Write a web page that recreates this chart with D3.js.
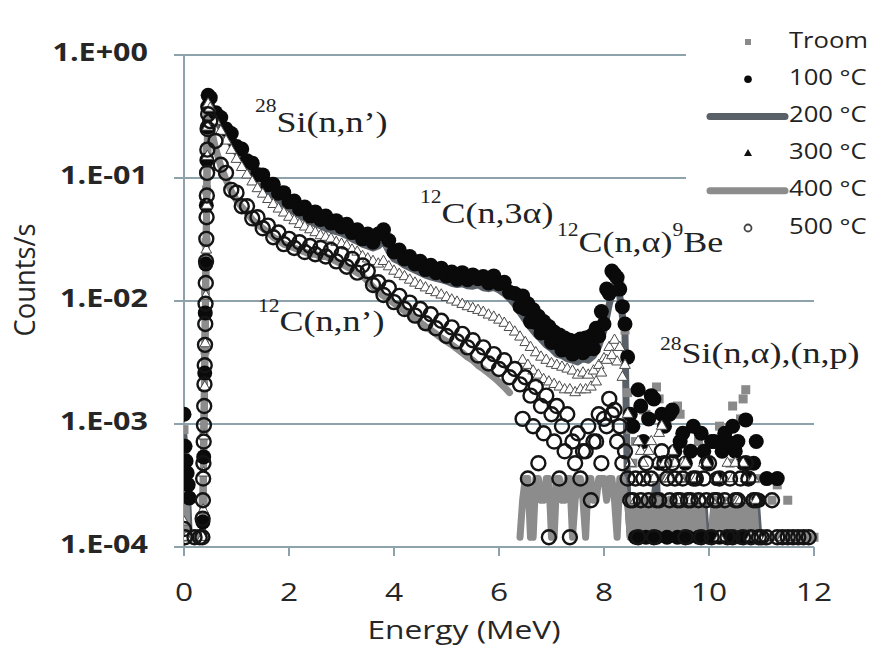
<!DOCTYPE html>
<html>
<head>
<meta charset="utf-8">
<script src="https://cdn.jsdelivr.net/npm/d3@7"></script>
<style>
  html, body { margin: 0; padding: 0; background: #fff; }
  svg { display: block; }
</style>
</head>
<body>
<div id="chart"></div>
<script>
// --- DATA ---
// energy bins in MeV; finer steps on the steep rising edge near 0.4 MeV
const energy = [
  0, 0.02, 0.04, 0.06, 0.08, 0.1, 0.2, 0.3,
  0.35, 0.355, 0.36, 0.365, 0.37, 0.375, 0.38, 0.385, 0.39, 0.395,
  0.4, 0.405, 0.41, 0.415, 0.42, 0.425, 0.43, 0.435, 0.44, 0.445, 0.45, 0.46,
  0.5, 0.6, 0.7, 0.8, 0.9, 1.0, 1.1, 1.2, 1.3, 1.4,
  1.5, 1.6, 1.7, 1.8, 1.9, 2.0, 2.1, 2.2, 2.3, 2.4,
  2.5, 2.6, 2.7, 2.8, 2.9, 3.0, 3.1, 3.2, 3.3, 3.4,
  3.5, 3.6, 3.7, 3.8, 3.9, 4.0, 4.1, 4.2, 4.3, 4.4,
  4.5, 4.6, 4.7, 4.8, 4.9, 5.0, 5.1, 5.2, 5.3, 5.4,
  5.5, 5.6, 5.7, 5.8, 5.9, 6.0, 6.1, 6.2, 6.3, 6.4,
  6.5, 6.6, 6.7, 6.8, 6.9, 7.0, 7.1, 7.2, 7.3, 7.4,
  7.5, 7.6, 7.7, 7.8, 7.9, 8.0, 8.1, 8.2, 8.3, 8.4,
  8.5, 8.6, 8.7, 8.8, 8.9, 9.0, 9.1, 9.2, 9.3, 9.4,
  9.5, 9.6, 9.7, 9.8, 9.9, 10.0, 10.1, 10.2, 10.3, 10.4,
  10.5, 10.6, 10.7, 10.8, 10.9, 11.0, 11.1, 11.2, 11.3, 11.4,
  11.5, 11.6, 11.7, 11.8, 11.9, 12.0
];
// extra half-step bins in the noisy high-energy tail
const energyTail = [
  6.45, 6.55, 6.65, 6.75, 6.85, 6.95, 7.05, 7.15, 7.25, 7.35,
  7.45, 7.55, 7.65, 7.75, 7.85, 7.95, 8.05, 8.15, 8.25, 8.35,
  8.45, 8.55, 8.65, 8.75, 8.85, 8.95, 9.05, 9.15, 9.25, 9.35,
  9.45, 9.55, 9.65, 9.75, 9.85, 9.95, 10.05, 10.15, 10.25, 10.35,
  10.45, 10.55, 10.65, 10.75, 10.85, 10.95
];

// counts/s, null = no counts
const countsTroom = [
  0.0009, 0.0006, 0.00048, 0.00036, 0.00024, 0.00012, null, null,
  null, null, null, 0.00024, null, null, 0.0008, null, null, null,
  0.004, null, 0.012, null, 0.03, null, 0.08, null, 0.17, null, 0.33, 0.45,
  0.44, 0.355, 0.305, 0.26, 0.225, 0.188, 0.168, 0.142, 0.129, 0.11,
  0.099, 0.094, 0.084, 0.08, 0.071, 0.068, 0.061, 0.06, 0.054, 0.053,
  0.049, 0.049, 0.045, 0.046, 0.042, 0.043, 0.039, 0.039, 0.035, 0.035,
  0.032, 0.033, 0.034, 0.036, 0.029, 0.027, 0.024, 0.024, 0.021, 0.022,
  0.0195, 0.0195, 0.018, 0.0185, 0.017, 0.0175, 0.016, 0.0165, 0.0158, 0.016,
  0.0152, 0.0163, 0.0147, 0.0152, 0.0148, 0.0142, 0.0138, 0.012, 0.0112, 0.0092,
  0.0085, 0.007, 0.0066, 0.0056, 0.0054, 0.0046, 0.0046, 0.004, 0.0042, 0.0037,
  0.0039, 0.0038, 0.0041, 0.0041, 0.0052, 0.0065, 0.0115, 0.0155, 0.0135, 0.0058,
  0.0009, 0.00072, 0.00012, 0.0012, 0.00024, 0.002, 0.00036, 0.001, 0.00024, 0.0014,
  0.00036, 0.0006, 0.00024, 0.00072, 0.00012, 0.00048, 0.00024, 0.00096, 0.00012, 0.00048,
  0.00024, 0.0011, 0.0019, 0.00024, 0.00036, 0.00012, 0.00012, 0.00024, 0.00032, 0.00012,
  0.00024, 0.00012, 0.00012, 0.00012, 0.00012, 0.00012
];
const tailTroom = [
  null, null, null, null, null, null, null, null, null, null,
  null, null, null, null, null, null, null, null, null, null,
  0.0018, 0.00048, null, 0.0013, null, 0.00036, 0.0016, null, 0.00048, null,
  0.0012, null, 0.00036, null, 0.00084, null, 0.00024, null, 0.0006, null,
  0.0014, null, 0.0016, 0.00036, null, 0.00024
];

const counts100 = [
  0.0012, 0.00066, 0.0005, 0.0004, 0.00032, 0.00025, null, null,
  null, null, 0.00016, null, null, 0.00054, null, null, null, 0.0026,
  null, 0.008, null, 0.02, null, 0.06, null, 0.14, null, 0.26, 0.38, 0.47,
  0.45, 0.34, 0.31, 0.25, 0.23, 0.18, 0.172, 0.138, 0.132, 0.107,
  0.106, 0.088, 0.089, 0.075, 0.076, 0.064, 0.065, 0.056, 0.058, 0.049,
  0.053, 0.046, 0.049, 0.043, 0.045, 0.040, 0.042, 0.036, 0.038, 0.032,
  0.035, 0.030, 0.035, 0.038, 0.031, 0.025, 0.026, 0.022, 0.023, 0.020,
  0.021, 0.018, 0.0195, 0.017, 0.0185, 0.016, 0.0172, 0.015, 0.017, 0.0149,
  0.0163, 0.0152, 0.0158, 0.014, 0.016, 0.0138, 0.0142, 0.0118, 0.0115, 0.009,
  0.0086, 0.0068, 0.0067, 0.0055, 0.0055, 0.0046, 0.0046, 0.004, 0.0042, 0.0037,
  0.004, 0.0038, 0.0041, 0.0041, 0.0052, 0.0065, 0.0115, 0.0165, 0.0125, 0.0065,
  0.0012, 0.00012, 0.0014, 0.00012, 0.0017, 0.00012, 0.0012, 0.00012, 0.0013, 0.00012,
  0.00084, 0.00012, 0.00096, 0.00012, 0.0006, 0.00012, 0.00072, 0.00012, 0.00084, 0.00012,
  0.0006, 0.00012, 0.00108, 0.00012, 0.00072, 0.00012, 0.00036, null, 0.00036, null,
  null, null, null, null, null, null
];
const tail100 = [
  0.011, 0.0095, 0.0085, 0.0075, 0.0068, 0.0062, 0.0056, 0.0053, 0.005, 0.0048,
  0.0047, 0.0049, 0.005, 0.0052, 0.006, 0.0082, 0.0125, 0.0175, 0.0155, 0.009,
  0.0035, 0.00096, 0.0019, 0.00072, 0.0011, 0.0016, 0.00048, 0.00096, 0.0012, 0.0006,
  0.00072, 0.00048, 0.0006, 0.00036, 0.00084, 0.00048, 0.00072, 0.00036, 0.0006, 0.00072,
  0.00096, 0.00072, 0.00048, 0.00036, 0.00048, 0.00024
];

const counts200 = [
  0.0008, 0.0005, 0.0004, 0.0003, 0.0002, 0.00012, 0.00012, 0.00012,
  0.00012, 0.00015, 0.0002, 0.0003, 0.0004, 0.0006, 0.0009, 0.0013, 0.002, 0.003,
  0.0045, 0.0068, 0.01, 0.015, 0.023, 0.035, 0.055, 0.085, 0.13, 0.2, 0.29, 0.37,
  0.37, 0.3, 0.255, 0.222, 0.188, 0.162, 0.14, 0.123, 0.108, 0.095,
  0.086, 0.079, 0.072, 0.067, 0.061, 0.057, 0.053, 0.05, 0.047, 0.044,
  0.0425, 0.041, 0.039, 0.038, 0.0366, 0.0357, 0.034, 0.032, 0.0306, 0.029,
  0.028, 0.027, 0.028, 0.031, 0.0255, 0.022, 0.021, 0.0196, 0.0187, 0.0178,
  0.017, 0.0162, 0.0157, 0.0153, 0.0149, 0.0145, 0.0139, 0.0136, 0.0138, 0.0133,
  0.0132, 0.0136, 0.0128, 0.0126, 0.0129, 0.0123, 0.0115, 0.0105, 0.0094, 0.0081,
  0.007, 0.0061, 0.0054, 0.0049, 0.0044, 0.0041, 0.0037, 0.0036, 0.0034, 0.0033,
  0.0032, 0.0034, 0.0033, 0.0036, 0.0043, 0.0058, 0.0094, 0.0136, 0.011, 0.0053,
  0.00012, 0.00024, 0.00012, 0.00024, 0.00012, 0.00036, 0.00012, 0.00024, 0.00012, 0.00024,
  0.00012, 0.00024, 0.00012, 0.00012, 0.00024, 0.00012, 0.00024, 0.00012, 0.00012, 0.00024,
  0.00012, 0.00024, 0.00012, 0.00012, 0.00024, 0.00012, null, null, null, null,
  null, null, null, null, null, null
];
const tail200 = [
  null, null, null, null, null, null, null, null, null, null,
  null, null, null, null, null, null, null, null, null, null,
  0.00024, 0.00012, 0.00024, 0.00012, 0.00012, 0.00024, 0.00012, 0.00024, 0.00012, 0.00012,
  0.00024, 0.00012, 0.00024, 0.00012, 0.00024, 0.00012, 0.00012, 0.00024, 0.00012, 0.00024,
  0.00012, 0.00024, 0.00012, 0.00024, 0.00012, 0.00012
];

const counts300 = [
  0.00016, null, 0.00012, null, null, null, null, null,
  null, 0.00012, null, 0.0002, null, 0.0004, null, 0.0008, null, 0.002,
  null, 0.0045, null, 0.011, null, 0.026, null, 0.06, null, 0.15, 0.26, 0.40,
  0.37, 0.29, 0.24, 0.2, 0.168, 0.142, 0.122, 0.106, 0.093, 0.082,
  0.074, 0.067, 0.061, 0.056, 0.052, 0.048, 0.045, 0.042, 0.04, 0.038,
  0.036, 0.034, 0.033, 0.032, 0.03, 0.029, 0.028, 0.026, 0.025, 0.023,
  0.022, 0.021, 0.02, 0.021, 0.019, 0.0175, 0.0165, 0.0158, 0.0148, 0.014,
  0.0134, 0.0128, 0.0122, 0.0117, 0.0112, 0.0107, 0.0102, 0.0098, 0.0094, 0.009,
  0.0087, 0.0084, 0.0081, 0.0077, 0.0074, 0.007, 0.0066, 0.0061, 0.0056, 0.0051,
  0.0046, 0.0042, 0.0038, 0.0035, 0.0033, 0.0031, 0.003, 0.0029, 0.0028, 0.0027,
  0.0025, 0.0026, 0.0025, 0.0027, 0.003, 0.0034, 0.0042, 0.0048, 0.0042, 0.003,
  0.00048, 0.00024, 0.0006, 0.00036, 0.00072, 0.00048, 0.00096, 0.00036, 0.0006, 0.00024,
  0.00048, 0.00024, 0.00036, 0.00024, 0.00048, 0.00024, 0.00036, 0.00012, 0.00036, 0.00024,
  0.00048, 0.00024, 0.00036, 0.00012, 0.00024, null, 0.00012, null, null, 0.00012,
  null, 0.00012, null, null, null, null
];
const tail300 = [
  0.0033, 0.003, 0.0027, 0.0025, 0.0023, 0.0022, 0.0021, 0.002, 0.0019, 0.0019,
  0.0018, 0.0019, 0.0019, 0.002, 0.0022, 0.0026, 0.0033, 0.0036, 0.0032, 0.0024,
  0.0012, 0.00036, 0.00072, 0.00048, 0.0006, 0.00036, 0.00084, 0.00048, 0.00036, 0.00048,
  0.00036, 0.00048, 0.00024, 0.00036, 0.00024, 0.00048, 0.00024, 0.00036, 0.00024, 0.00048,
  0.00036, 0.00024, 0.00048, 0.00024, 0.00036, 0.00012
];

const counts400 = [
  0.0006, 0.0004, 0.00024, 0.00012, 0.00012, 0.00012, 0.00012, 0.00012,
  0.00012, 0.00016, 0.00022, 0.00032, 0.00046, 0.0007, 0.001, 0.0015, 0.0022, 0.0033,
  0.005, 0.0075, 0.011, 0.016, 0.024, 0.036, 0.054, 0.08, 0.12, 0.18, 0.24, 0.31,
  0.27, 0.175, 0.125, 0.097, 0.078, 0.066, 0.058, 0.052, 0.046, 0.042,
  0.039, 0.036, 0.033, 0.031, 0.029, 0.028, 0.027, 0.026, 0.025, 0.024,
  0.024, 0.023, 0.023, 0.022, 0.021, 0.02, 0.019, 0.018, 0.017, 0.016,
  0.0145, 0.013, 0.0118, 0.011, 0.0103, 0.0096, 0.0089, 0.0083, 0.0077, 0.0072,
  0.0067, 0.0062, 0.0058, 0.0054, 0.005, 0.0047, 0.0044, 0.0041, 0.0038, 0.0035,
  0.0033, 0.003, 0.0028, 0.0026, 0.0024, 0.0022, 0.002, 0.0018, null, 0.00012,
  0.00036, 0.00012, 0.00036, 0.00024, 0.00036, 0.00012, 0.00036, 0.00024, 0.00036, 0.00012,
  0.00036, 0.00024, 0.00036, 0.00024, 0.00036, 0.00036, 0.00036, 0.00024, 0.00036, 0.00024,
  0.00012, 0.00024, 0.00012, 0.00024, 0.00012, 0.00024, 0.00012, 0.00024, 0.00012, 0.00024,
  0.00012, 0.00024, 0.00012, 0.00024, 0.00012, 0.00012, 0.00024, 0.00012, 0.00024, 0.00012,
  0.00024, 0.00012, 0.00024, 0.00012, 0.00012, 0.00012, 0.00012, 0.00012, 0.00012, 0.00012,
  0.00012, 0.00012, 0.00012, 0.00012, 0.00012, 0.00012
];
const tail400 = [
  0.00024, 0.00036, 0.00012, 0.00036, 0.00024, 0.00036, 0.00012, 0.00036, 0.00024, 0.00036,
  0.00024, 0.00036, 0.00012, 0.00036, 0.00024, 0.00036, 0.00024, 0.00036, 0.00012, 0.00036,
  0.00024, 0.00012, 0.00024, 0.00012, 0.00024, 0.00012, 0.00024, 0.00012, 0.00024, 0.00012,
  0.00024, 0.00012, 0.00024, 0.00012, 0.00024, 0.00012, 0.00012, 0.00024, 0.00012, 0.00024,
  0.00012, 0.00024, 0.00012, 0.00012, 0.00024, 0.00012
];

const counts500 = [
  0.00014, 0.00012, null, null, null, null, 0.00012, 0.00012,
  0.00012, 0.00017, 0.00024, 0.00036, 0.00048, 0.00072, 0.00098, 0.0014, 0.0021, 0.003,
  0.0044, 0.0065, 0.0095, 0.014, 0.021, 0.032, 0.048, 0.072, 0.11, 0.17, 0.25, 0.33,
  0.29, 0.2, 0.128, 0.11, 0.08, 0.076, 0.059, 0.059, 0.047, 0.048,
  0.039, 0.041, 0.033, 0.036, 0.029, 0.032, 0.027, 0.03, 0.025, 0.028,
  0.024, 0.027, 0.023, 0.026, 0.021, 0.024, 0.019, 0.022, 0.017, 0.0195,
  0.0175, 0.0135, 0.0142, 0.0112, 0.0128, 0.0098, 0.011, 0.0086, 0.0097, 0.0076,
  0.0086, 0.0066, 0.0078, 0.006, 0.0069, 0.0052, 0.0061, 0.0047, 0.0054, 0.0042,
  0.0048, 0.0036, 0.0042, 0.0031, 0.0037, 0.0028, 0.0033, 0.0024, 0.0028, 0.0021,
  0.0024, 0.0017, 0.002, 0.0014, 0.0017, 0.0012, 0.0014, 0.00096, 0.0012, 0.00072,
  0.00084, 0.0006, 0.00096, 0.00072, 0.0012, 0.0011, 0.0016, 0.0013, 0.00096, 0.0006,
  0.00024, 0.00036, 0.00024, 0.00048, 0.00036, 0.00024, 0.0006, 0.00036, 0.00048, 0.00024,
  0.00036, 0.00024, 0.00036, 0.00024, 0.00036, 0.00048, 0.00024, 0.00036, 0.00024, 0.00036,
  0.00024, 0.00036, 0.00048, 0.00012, 0.00024, 0.00012, 0.00012, 0.00024, 0.00012, 0.00012,
  0.00012, 0.00012, 0.00012, 0.00012, 0.00012, null
];
const tail500 = [
  0.0011, 0.00036, 0.00096, 0.00048, 0.00084, 0.00012, 0.00072, 0.00036, 0.0006, 0.00012,
  0.00048, 0.00036, 0.0006, 0.00024, 0.00072, 0.00048, 0.00096, 0.0012, 0.00072, 0.00048,
  0.00036, 0.00024, 0.00012, 0.00036, 0.00024, 0.00012, 0.00024, 0.00048, 0.00024, 0.00036,
  0.00024, 0.00012, 0.00024, 0.00036, 0.00012, 0.00024, 0.00012, 0.00024, null, 0.00012,
  0.00012, 0.00024, 0.00012, 0.00036, 0.00024, 0.00012
];

const seriesNames = ["Troom", "100 °C", "200 °C", "300 °C", "400 °C", "500 °C"];
const xTicks = [0, 2, 4, 6, 8, 10, 12];
const yTicks = [1, 1e-1, 1e-2, 1e-3, 1e-4];
const yTickLabels = ["1.E+00", "1.E-01", "1.E-02", "1.E-03", "1.E-04"];

// --- SETUP ---
const width = 875, height = 652;
const plot = { left: 184, right: 814, top: 55, bottom: 547 };
const sx = 1.22; // the source picture is stretched horizontally, so are its glyphs
const sansFont = "'Open Sans', 'Noto Sans', sans-serif";
const serifFont = "'Liberation Serif', 'DejaVu Serif', serif";
const gridColor = "#8ea2ab";

const svg = d3.select("#chart").append("svg")
    .attr("width", width).attr("height", height);

const xScale = d3.scaleLinear().domain([0, 12]).range([plot.left, plot.right]);
const yScale = d3.scaleLog().domain([1e-4, 1]).range([plot.bottom, plot.top]);

// stretched text helper
function sText(g, x, y, str, size, opts = {}) {
    return g.append("text")
        .attr("transform", `translate(${x},${y}) scale(${opts.sx || sx},1)`)
        .attr("font-family", opts.family || sansFont)
        .attr("font-size", size)
        .attr("font-weight", opts.weight || "normal")
        .attr("fill", opts.fill || "#262626")
        .attr("text-anchor", opts.anchor || "start")
        .attr("dominant-baseline", opts.baseline || "auto")
        .text(str);
}

// --- GRID & AXES ---
const grid = svg.append("g");
grid.selectAll("line.grid")
    .data(yTicks.slice(0, 4)).enter().append("line")
    .attr("x1", plot.left - 10).attr("x2", plot.right)
    .attr("y1", d => yScale(d)).attr("y2", d => yScale(d))
    .attr("stroke", gridColor).attr("stroke-width", 2);

grid.append("line")
    .attr("x1", plot.left).attr("x2", plot.left)
    .attr("y1", plot.top).attr("y2", plot.bottom)
    .attr("stroke", gridColor).attr("stroke-width", 2);
grid.append("line")
    .attr("x1", plot.left - 10).attr("x2", plot.right)
    .attr("y1", plot.bottom).attr("y2", plot.bottom)
    .attr("stroke", gridColor).attr("stroke-width", 2);
grid.selectAll("line.xtick")
    .data(xTicks).enter().append("line")
    .attr("x1", d => xScale(d)).attr("x2", d => xScale(d))
    .attr("y1", plot.bottom).attr("y2", plot.bottom + 9)
    .attr("stroke", gridColor).attr("stroke-width", 2);

const labels = svg.append("g");
yTicks.forEach((t, i) => {
    sText(labels, 148, yScale(t) - 1, yTickLabels[i], 25,
        { weight: "bold", anchor: "end", baseline: "middle" });
});
xTicks.forEach(t => {
    sText(labels, xScale(t), 594, String(t), 26, { anchor: "middle", baseline: "middle" });
});
sText(labels, 464, 632, "Energy (MeV)", 26, { anchor: "middle", baseline: "middle" });
labels.append("text")
    .attr("transform", "translate(27,280) rotate(-90) scale(1.05,1.15)")
    .attr("font-family", sansFont).attr("font-size", 26)
    .attr("fill", "#262626").attr("text-anchor", "middle")
    .attr("dominant-baseline", "middle")
    .text("Counts/s");

// --- DATA MARKS ---
svg.append("defs").append("clipPath").attr("id", "plot-clip")
    .append("rect")
    .attr("x", plot.left).attr("y", plot.top - 8)
    .attr("width", plot.right - plot.left + 8).attr("height", plot.bottom - plot.top + 8);

const marks = svg.append("g").attr("clip-path", "url(#plot-clip)");

// merge main bins and (non-empty) tail bins, sorted by energy
function toPoints(main, tail) {
    const pts = energy.map((e, i) => ({ e, v: main[i] }))
        .concat(energyTail.map((e, i) => ({ e, v: tail[i] })).filter(d => d.v != null));
    return pts.sort((a, b) => a.e - b.e);
}
const valid = pts => pts.filter(d => d.v != null);

// a null in the main bins breaks the line
const lineGen = d3.line()
    .defined(d => d.v != null)
    .x(d => xScale(d.e))
    .y(d => yScale(d.v));

// line series first (painted under the markers)
[[counts200, tail200, "#5a6068"], [counts400, tail400, "#8c8c8c"]].forEach(([arr, tail, color]) => {
    marks.append("path")
        .datum(toPoints(arr, tail))
        .attr("d", lineGen)
        .attr("fill", "none")
        .attr("stroke", color)
        .attr("stroke-width", 7)
        .attr("stroke-linejoin", "round")
        .attr("stroke-linecap", "round");
});

// Troom: grey squares
marks.selectAll(".sq")
    .data(valid(toPoints(countsTroom, tailTroom))).enter().append("rect")
    .attr("x", d => xScale(d.e) - 4.5).attr("y", d => yScale(d.v) - 4.5)
    .attr("width", 9).attr("height", 9)
    .attr("fill", "#8a8a8a");

// 100 °C: black dots
marks.selectAll(".dot")
    .data(valid(toPoints(counts100, tail100))).enter().append("circle")
    .attr("cx", d => xScale(d.e)).attr("cy", d => yScale(d.v))
    .attr("r", 7.5)
    .attr("fill", "#0a0a0a");

// 300 °C: triangles
const tri = d3.symbol().type(d3.symbolTriangle).size(50);
marks.selectAll(".tri")
    .data(valid(toPoints(counts300, tail300))).enter().append("path")
    .attr("transform", d => `translate(${xScale(d.e)},${yScale(d.v)})`)
    .attr("d", tri)
    .attr("fill", "#fff")
    .attr("stroke", "#4a4a4a")
    .attr("stroke-width", 1);

// 500 °C: open circles
marks.selectAll(".ring")
    .data(valid(toPoints(counts500, tail500))).enter().append("circle")
    .attr("cx", d => xScale(d.e)).attr("cy", d => yScale(d.v))
    .attr("r", 7)
    .attr("fill", "none")
    .attr("stroke", "#141414")
    .attr("stroke-width", 2.4);

// --- LEGEND ---
const legend = svg.append("g");
legend.append("rect")
    .attr("x", 686).attr("y", 18).attr("width", 189).attr("height", 230)
    .attr("fill", "#fff");
const legendTop = 42, legendStep = 37.2, markX = 748;
seriesNames.forEach((name, i) => {
    const ly = legendTop + i * legendStep;
    if (i === 0) {
        legend.append("rect").attr("x", markX - 3).attr("y", ly - 3)
            .attr("width", 6).attr("height", 6).attr("fill", "#8a8a8a");
    } else if (i === 1) {
        legend.append("circle").attr("cx", markX).attr("cy", ly).attr("r", 3.8).attr("fill", "#0a0a0a");
    } else if (i === 2 || i === 4) {
        legend.append("line")
            .attr("x1", 710).attr("x2", 785).attr("y1", ly).attr("y2", ly)
            .attr("stroke", i === 2 ? "#5a6068" : "#8c8c8c")
            .attr("stroke-width", 7).attr("stroke-linecap", "round");
    } else if (i === 3) {
        legend.append("path").attr("transform", `translate(${markX},${ly})`)
            .attr("d", d3.symbol().type(d3.symbolTriangle).size(28)).attr("fill", "#111");
    } else {
        legend.append("circle").attr("cx", markX).attr("cy", ly).attr("r", 3.5)
            .attr("fill", "none").attr("stroke", "#444").attr("stroke-width", 1.8);
    }
    sText(legend, 789, ly, name, 21, { baseline: "middle", fill: "#222" });
});

// --- REACTION ANNOTATIONS ---
const notes = [
    { x: 255, y: 132, shift: 20, parts: [["28", 1], ["Si(n,n’)", 0]] },
    { x: 258, y: 331, shift: 19, parts: [["12", 1], ["C(n,n’)", 0]] },
    { x: 420, y: 223, shift: 20, parts: [["12", 1], ["C(n,3α)", 0]] },
    { x: 557, y: 252, shift: 16, parts: [["12", 1], ["C(n,α)", 0], ["9", 1], ["Be", 0]] },
    { x: 660, y: 363, shift: 13, parts: [["28", 1], ["Si(n,α),(n,p)", 0]] }
];
const noteG = svg.append("g");
notes.forEach(n => {
    const t = noteG.append("text")
        .attr("transform", `translate(${n.x},${n.y}) scale(1.2,1)`)
        .attr("font-family", serifFont)
        .attr("fill", "#1e2326");
    let up = false;
    n.parts.forEach(([str, sup]) => {
        const ts = t.append("tspan").text(str)
            .attr("font-size", sup ? 18 : 30);
        if (sup && !up) { ts.attr("dy", -n.shift); up = true; }
        else if (!sup && up) { ts.attr("dy", n.shift); up = false; }
    });
});
</script>
</body>
</html>
